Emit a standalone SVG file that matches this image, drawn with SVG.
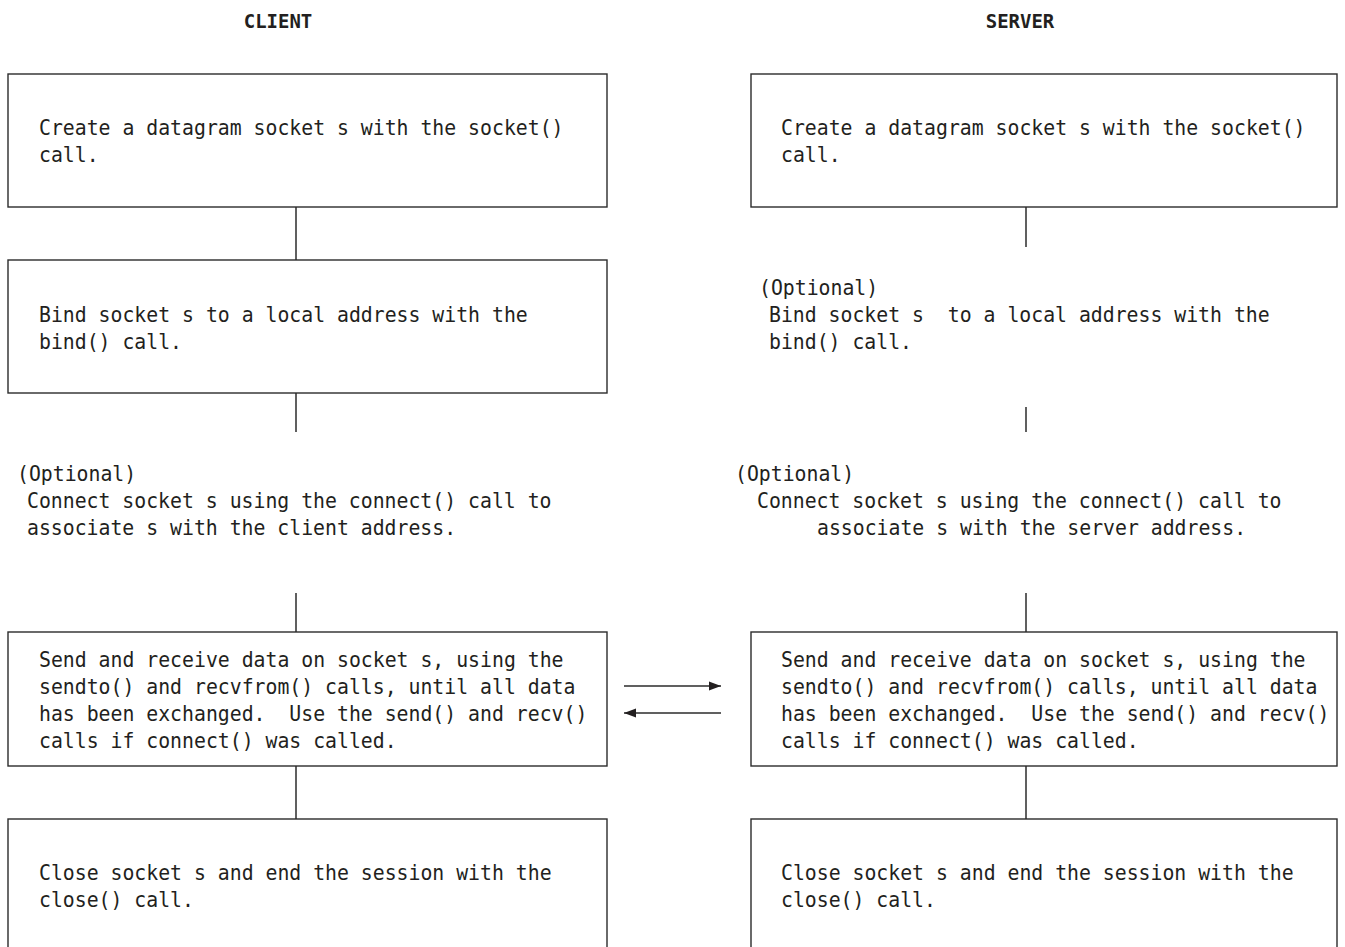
<svg xmlns="http://www.w3.org/2000/svg" width="1345" height="947" viewBox="0 0 1345 947">
  <style>
    .box { fill: #ffffff; stroke: #2b2b2b; stroke-width: 1.4; }
    .wire { stroke: #2b2b2b; stroke-width: 1.5; fill: none; }
    .t { font-family: "DejaVu Sans Mono", "Liberation Mono", monospace; font-size: 21px; fill: #231f20; white-space: pre; }
    .h { font-family: "DejaVu Sans Mono", "Liberation Mono", monospace; font-size: 20px; font-weight: bold; fill: #231f20; }
  </style>
  <defs>
    <marker id="arrowhead" viewBox="0 0 12 10" refX="12" refY="5" markerWidth="12" markerHeight="10" markerUnits="userSpaceOnUse" orient="auto">
      <path d="M0,0.5 L12,5 L0,9.5 Z" fill="#231f20"/>
    </marker>
  </defs>
  <rect width="1345" height="947" fill="#ffffff"/>

  <!-- column headings, slightly narrowed bold mono -->
  <g id="heading-client">
    <text class="h" transform="translate(278 28) scale(0.95 1)" text-anchor="middle">CLIENT</text>
  </g>
  <g id="heading-server">
    <text class="h" transform="translate(1020 28) scale(0.95 1)" text-anchor="middle">SERVER</text>
  </g>

  <!-- connectors -->
  <g id="connectors">
    <line class="wire" x1="296" y1="207" x2="296" y2="260"/>
    <line class="wire" x1="296" y1="393" x2="296" y2="432"/>
    <line class="wire" x1="296" y1="593" x2="296" y2="632"/>
    <line class="wire" x1="296" y1="766" x2="296" y2="819"/>
    <line class="wire" x1="1026" y1="207" x2="1026" y2="247"/>
    <line class="wire" x1="1026" y1="407" x2="1026" y2="432"/>
    <line class="wire" x1="1026" y1="593" x2="1026" y2="632"/>
    <line class="wire" x1="1026" y1="766" x2="1026" y2="819"/>
    <line class="wire" x1="624" y1="686" x2="721" y2="686" marker-end="url(#arrowhead)"/>
    <line class="wire" x1="721" y1="713" x2="624" y2="713" marker-end="url(#arrowhead)"/>
  </g>

  <!-- client steps; text is narrowed to an 11.92 px character pitch -->
  <g id="client-socket">
    <rect class="box" x="8" y="74" width="599" height="133"/>
    <text class="t" transform="translate(39 135) scale(0.943 1)">Create a datagram socket s with the socket()</text>
    <text class="t" transform="translate(39 162) scale(0.943 1)">call.</text>
  </g>
  <g id="client-bind">
    <rect class="box" x="8" y="260" width="599" height="133"/>
    <text class="t" transform="translate(39 322) scale(0.943 1)">Bind socket s to a local address with the</text>
    <text class="t" transform="translate(39 349) scale(0.943 1)">bind() call.</text>
  </g>
  <g id="client-connect">
    <text class="t" transform="translate(17 481) scale(0.943 1)">(Optional)</text>
    <text class="t" transform="translate(27 508) scale(0.943 1)">Connect socket s using the connect() call to</text>
    <text class="t" transform="translate(27 535) scale(0.943 1)">associate s with the client address.</text>
  </g>
  <g id="client-transfer">
    <rect class="box" x="8" y="632" width="599" height="134"/>
    <text class="t" transform="translate(39 667) scale(0.943 1)">Send and receive data on socket s, using the</text>
    <text class="t" transform="translate(39 694) scale(0.943 1)">sendto() and recvfrom() calls, until all data</text>
    <text class="t" transform="translate(39 721) scale(0.943 1)">has been exchanged.  Use the send() and recv()</text>
    <text class="t" transform="translate(39 748) scale(0.943 1)">calls if connect() was called.</text>
  </g>
  <g id="client-close">
    <rect class="box" x="8" y="819" width="599" height="150"/>
    <text class="t" transform="translate(39 880) scale(0.943 1)">Close socket s and end the session with the</text>
    <text class="t" transform="translate(39 907) scale(0.943 1)">close() call.</text>
  </g>

  <!-- server steps -->
  <g id="server-socket">
    <rect class="box" x="751" y="74" width="586" height="133"/>
    <text class="t" transform="translate(781 135) scale(0.943 1)">Create a datagram socket s with the socket()</text>
    <text class="t" transform="translate(781 162) scale(0.943 1)">call.</text>
  </g>
  <g id="server-bind">
    <text class="t" transform="translate(759 295) scale(0.943 1)">(Optional)</text>
    <text class="t" transform="translate(769 322) scale(0.943 1)">Bind socket s  to a local address with the</text>
    <text class="t" transform="translate(769 349) scale(0.943 1)">bind() call.</text>
  </g>
  <g id="server-connect">
    <text class="t" transform="translate(735 481) scale(0.943 1)">(Optional)</text>
    <text class="t" transform="translate(757 508) scale(0.943 1)">Connect socket s using the connect() call to</text>
    <text class="t" transform="translate(817 535) scale(0.943 1)">associate s with the server address.</text>
  </g>
  <g id="server-transfer">
    <rect class="box" x="751" y="632" width="586" height="134"/>
    <text class="t" transform="translate(781 667) scale(0.943 1)">Send and receive data on socket s, using the</text>
    <text class="t" transform="translate(781 694) scale(0.943 1)">sendto() and recvfrom() calls, until all data</text>
    <text class="t" transform="translate(781 721) scale(0.943 1)">has been exchanged.  Use the send() and recv()</text>
    <text class="t" transform="translate(781 748) scale(0.943 1)">calls if connect() was called.</text>
  </g>
  <g id="server-close">
    <rect class="box" x="751" y="819" width="586" height="150"/>
    <text class="t" transform="translate(781 880) scale(0.943 1)">Close socket s and end the session with the</text>
    <text class="t" transform="translate(781 907) scale(0.943 1)">close() call.</text>
  </g>
</svg>
